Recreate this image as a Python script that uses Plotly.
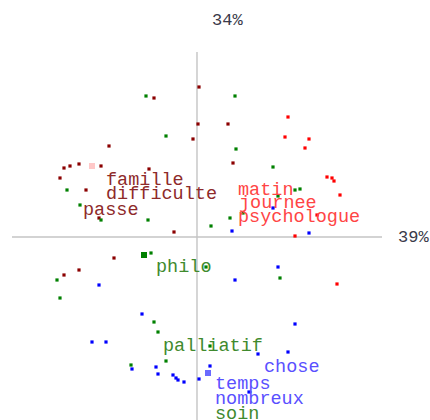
import plotly.graph_objects as go

# Factor coordinates of the individual segments, by class (axis 1 = x, axis 2 = y)
class1_x = [0.02, -0.43, 0.01, -0.04, -0.88, -1.33, -1.27, -1.18, -0.96, -1.37, -0.48,
            -1.11, -0.98, -0.23, 0.31, 0.36, -0.83, -1.18, -1.33]
class1_y = [1.50, 1.39, 1.13, 0.98, 0.91, 0.69, 0.71, 0.73, 0.71, 0.59, 0.68,
            0.47, 0.19, 0.05, 1.13, 0.74, -0.21, -0.33, -0.38]

class2_x = [0.91, 0.88, 1.12, 1.08, 1.30, 1.35, 1.37, 1.43, 1.20, 0.98, 1.40]
class2_y = [1.20, 1.00, 0.98, 0.89, 0.60, 0.59, 0.56, 0.42, 0.22, 0.01, -0.47]

class3_x = [0.38, -0.51, -0.31, 0.39, 0.76, -1.30, -1.17, -0.96, -0.49, 0.14, 0.33,
            0.46, 0.81, 0.98, 1.03, -0.46, 0.09, -1.40, -1.37, -0.43, -0.39, 0.13,
            -0.31, -0.66, 0.83]
class3_y = [1.41, 1.41, 1.01, 0.88, 0.70, 0.47, 0.32, 0.17, 0.17, 0.11, 0.19,
            0.24, 0.41, 0.47, 0.48, -0.16, -0.30, -0.43, -0.61, -0.85, -0.95, -1.09,
            -1.24, -1.28, -0.41]

class4_x = [0.76, 0.35, 1.12, -0.98, 0.81, 0.38, 0.98, -0.55, -1.05, -0.91, 0.61,
            0.91, -0.65, -0.41, -0.39, -0.24, -0.21, -0.19, -0.13, 0.02, 0.13, 0.52]
class4_y = [0.29, 0.06, 0.04, -0.48, -0.30, -0.43, -0.87, -0.77, -1.05, -1.05, -1.17,
            -1.15, -1.32, -1.30, -1.37, -1.38, -1.41, -1.43, -1.45, -1.42, -1.29, -1.55]

# Heavier (repeated) segments drawn with a larger marker
heavy_x = [-1.05, -0.53, 0.11]
heavy_y = [0.71, -0.18, -1.36]
heavy_colors = ["#ffc8c8", "#008000", "#6a6aff"]

# Characteristic words of each class, anchored at their left edge
words = ["famille", "difficulte", "passe",
         "matin", "journee", "psychologue",
         "philo", "palliatif", "soin",
         "chose", "temps", "nombreux"]
words_x = [-0.92, -0.92, -1.15,
           0.40, 0.41, 0.40,
           -0.42, -0.35, 0.17,
           0.66, 0.17, 0.17]
words_y = [0.57, 0.43, 0.27,
           0.47, 0.34, 0.20,
           -0.30, -1.09, -1.77,
           -1.30, -1.47, -1.62]
words_class = [1, 1, 1, 2, 2, 2, 3, 3, 3, 4, 4, 4]

# Explained inertia of each axis
axis_labels = ["34%", "39%"]

point_colors = {1: "#8b0000", 2: "#ff0000", 3: "#008000", 4: "#0000ff"}
word_colors = {1: "#8e2a2a", 2: "#ff4545", 3: "#3f8a2e", 4: "#5a50ff"}

FONT = "Liberation Mono, Courier New, monospace"
AXIS_LIM = 1.85

fig = go.Figure()

# Axis cross
fig.add_shape(type="line", x0=-AXIS_LIM, x1=AXIS_LIM, y0=0, y1=0,
              line=dict(color="#c4c4c4", width=1.4), layer="below")
fig.add_shape(type="line", x0=0, x1=0, y0=-AXIS_LIM, y1=AXIS_LIM,
              line=dict(color="#c4c4c4", width=1.4), layer="below")

for cls, xs, ys in [(1, class1_x, class1_y), (2, class2_x, class2_y),
                    (3, class3_x, class3_y), (4, class4_x, class4_y)]:
    fig.add_trace(go.Scatter(
        x=xs, y=ys, mode="markers",
        marker=dict(symbol="square", size=3.2, color=point_colors[cls],
                    line=dict(width=0)),
        hoverinfo="skip", showlegend=False))

fig.add_trace(go.Scatter(
    x=heavy_x, y=heavy_y, mode="markers",
    marker=dict(symbol="square", size=6, color=heavy_colors, line=dict(width=0)),
    hoverinfo="skip", showlegend=False))

for w, wx, wy, c in zip(words, words_x, words_y, words_class):
    fig.add_annotation(x=wx, y=wy, text=w, showarrow=False,
                       xanchor="left", yanchor="middle", borderpad=0,
                       font=dict(family=FONT, size=18.5, color=word_colors[c]))

fig.add_annotation(x=0.14, y=2.17, text=axis_labels[0], showarrow=False,
                   xanchor="left", yanchor="middle", borderpad=0,
                   font=dict(family=FONT, size=17, color="#3a3a4a"))
fig.add_annotation(x=2.0, y=0.0, text=axis_labels[1], showarrow=False,
                   xanchor="left", yanchor="middle", borderpad=0,
                   font=dict(family=FONT, size=17, color="#3a3a4a"))

fig.update_xaxes(range=[-1.97, 2.33], visible=False, fixedrange=True)
fig.update_yaxes(range=[-1.83, 2.37], visible=False, fixedrange=True)
fig.update_layout(width=430, height=420, margin=dict(l=0, r=0, t=0, b=0),
                  plot_bgcolor="white", paper_bgcolor="white")

fig.write_html("out.html", config={"displayModeBar": False})
